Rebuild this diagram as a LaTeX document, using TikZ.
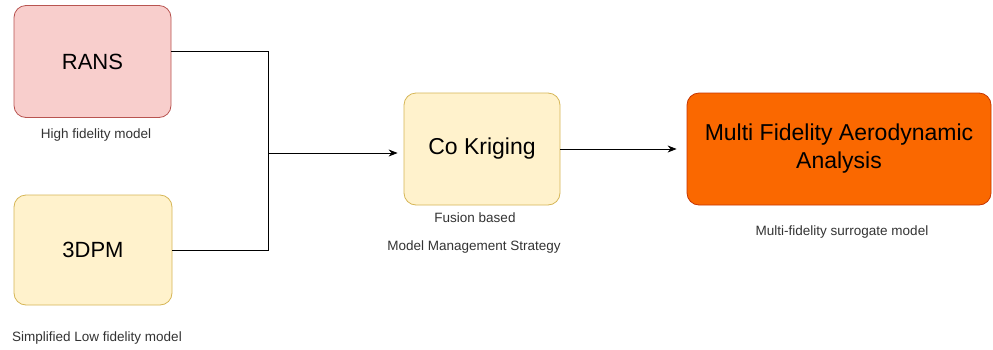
\documentclass[tikz,border=0pt]{standalone}
\usepackage{fontspec}
\setmainfont{Liberation Sans}
\usetikzlibrary{arrows.meta}
\definecolor{redfill}{HTML}{F8CECC}
\definecolor{redline}{HTML}{B85450}
\definecolor{yelfill}{HTML}{FFF2CC}
\definecolor{yelline}{HTML}{D6B656}
\definecolor{orgfill}{HTML}{FA6800}
\definecolor{orgline}{HTML}{C73500}
\definecolor{captext}{HTML}{333333}
\begin{document}
\begin{tikzpicture}[x=1pt,y=-1pt,
  box/.style={rounded corners=12pt, line width=0.8pt, inner sep=0pt,
    align=center, font=\fontsize{22}{26}\selectfont},
  caption/.style={font=\fontsize{13.5}{16}\selectfont, text=captext, inner sep=0pt},
  wire/.style={line width=0.9pt, draw=black},
  arrowtip/.style={-{Stealth[length=9pt,width=7pt]}}]
\fill[white] (0,0) rectangle (993,349);
\useasboundingbox (0,0) rectangle (993,349);

% model boxes
\node[box, fill=redfill, draw=redline, minimum width=157pt, minimum height=112pt]
  (rans) at (92.5,61.5) {RANS};
\node[box, fill=yelfill, draw=yelline, minimum width=158pt, minimum height=110pt]
  (dpm) at (93,250) {3DPM};
\node[box, fill=yelfill, draw=yelline, minimum width=156pt, minimum height=112pt,
  font=\fontsize{23}{27}\selectfont]
  (ck) at (482,149) {\raisebox{-2pt}{Co Kriging}};
\node[box, fill=orgfill, draw=orgline, minimum width=304pt, minimum height=112pt,
  font=\fontsize{23}{28}\selectfont]
  (mf) at (839,149) {\raisebox{-3pt}{Multi Fidelity Aerodynamic}\\\raisebox{-3pt}{Analysis}};

% captions
\node[caption] (c1) at (96,135) {High fidelity model};
\node[caption] (c2) at (97,338) {Simplified Low fidelity model};
\node[caption] (c3) at (475,218) {Fusion based};
\node[caption] (c4) at (474,247) {Model Management Strategy};
\node[caption] (c5) at (842,232) {Multi-fidelity surrogate model};

% connectors
\coordinate (jt) at (268,51);
\coordinate (jb) at (268,250);
\coordinate (jm) at (268,153);
\draw[wire] (rans.east |- jt) -- (jt) -- (jb) -- (dpm.east);
\draw[wire, arrowtip, shorten >=6pt] (jm) -- (ck.west |- jm);
\draw[wire, arrowtip, shorten >=10pt] (ck.east) -- (mf.west);
\end{tikzpicture}
\end{document}
